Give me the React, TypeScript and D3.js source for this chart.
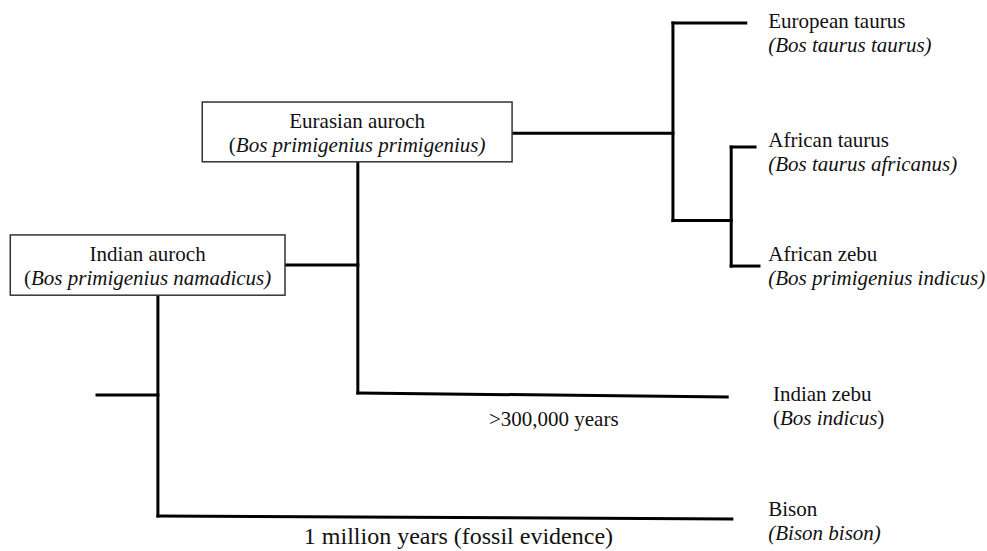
import React, { useEffect, useRef } from 'react';
import * as d3 from 'd3';

// diagram units: x 0..100 across the tree, y 0..10 from top leaf to bottom leaf

// leaves, top to bottom
const leafNames = ['European taurus', 'African taurus', 'African zebu', 'Indian zebu', 'Bison'];
const leafLatin = ['Bos taurus taurus', 'Bos taurus africanus', 'Bos primigenius indicus', 'Bos indicus', 'Bison bison'];
const leafUprightParens = [false, false, false, true, false];
const leafRowStart = [0, 2.51, 4.92, 7.49, 9.98];
const leafRowEnd = [0, 2.51, 4.92, 7.57, 10.04];
const leafFrom = [87, 95.8, 95.8, 39.4, 9.2];
const leafTo = [98, 99.4, 100, 95.2, 95.9];
const leafLabelX = [101.4, 101.4, 101.4, 102.1, 101.4];
const leafLabelRow = [0.1, 2.51, 4.82, 7.65, 9.98];

// internal splits: vertical bar plus the stem that feeds it
const cladeNames = ['Taurine', 'African', 'Eurasian', 'Indian'];
const cladeX = [87, 95.8, 39.4, 9.2];
const cladeTop = [0, 2.51, 2.81, 5.51];
const cladeBottom = [4.0, 4.92, 7.49, 9.98];
const stemFrom = [62.7, 87, 28.4, 0];
const stemRow = [2.23, 4.0, 4.9, 7.53];

// boxed ancestors
const boxNames = ['Eurasian auroch', 'Indian auroch'];
const boxLatin = ['Bos primigenius primigenius', 'Bos primigenius namadicus'];
const boxX0 = [15.9, -13.1];
const boxX1 = [62.7, 28.4];
const boxY0 = [1.6, 4.29];
const boxY1 = [2.81, 5.51];

// time notes under branches
const timeLabels = ['>300,000 years', '1 million years (fossil evidence)'];
const timeX = [69.0, 54.6];
const timeRow = [8.16, 10.55];
const timeSize = [21, 24];

const W = 987;
const H = 551;
const FONT = '"Liberation Serif", "Times New Roman", Times, "DejaVu Serif", serif';

const App = () => {
  const ref = useRef<SVGSVGElement | null>(null);

  useEffect(() => {
    const svg = d3.select(ref.current);
    svg.selectAll('*').remove();

    const x = d3.scaleLinear().domain([0, 100]).range([97, 759]);
    const y = d3.scaleLinear().domain([0, 10]).range([23, 517]);
    const line = d3.line<[number, number]>().x(d => x(d[0])).y(d => y(d[1]));

    svg.append('rect').attr('width', W).attr('height', H).attr('fill', '#fff');

    const g = svg.append('g')
      .attr('fill', 'none')
      .attr('stroke', '#000')
      .attr('stroke-width', 3)
      .attr('stroke-linecap', 'square');

    // clades
    cladeNames.forEach((c, i) => {
      g.append('path').attr('d', line([[cladeX[i], cladeTop[i]], [cladeX[i], cladeBottom[i]]]));
      g.append('path').attr('d', line([[stemFrom[i], stemRow[i]], [cladeX[i], stemRow[i]]]));
    });

    // leaf branches
    leafNames.forEach((n, i) => {
      g.append('path').attr('d', line([[leafFrom[i], leafRowStart[i]], [leafTo[i], leafRowEnd[i]]]));
    });

    // boxes
    boxNames.forEach((n, i) => {
      const x0 = x(boxX0[i]);
      const x1 = x(boxX1[i]);
      const y0 = y(boxY0[i]);
      const y1 = y(boxY1[i]);
      svg.append('rect')
        .attr('x', x0).attr('y', y0)
        .attr('width', x1 - x0).attr('height', y1 - y0)
        .attr('fill', '#fff')
        .attr('stroke', '#333')
        .attr('stroke-width', 1.5);
      const cx = (x0 + x1) / 2;
      const cy = (y0 + y1) / 2;
      svg.append('text')
        .attr('x', cx).attr('y', cy - 4)
        .attr('text-anchor', 'middle')
        .text(n);
      const t = svg.append('text')
        .attr('x', cx).attr('y', cy + 20)
        .attr('text-anchor', 'middle');
      t.append('tspan').text('(');
      t.append('tspan').style('font-style', 'italic').text(boxLatin[i] + ')');
    });

    // leaf labels
    leafNames.forEach((n, i) => {
      const lx = x(leafLabelX[i]);
      const ly = y(leafLabelRow[i]);
      svg.append('text').attr('x', lx).attr('y', ly).text(n);
      const t = svg.append('text').attr('x', lx).attr('y', ly + 24);
      if (leafUprightParens[i]) {
        t.append('tspan').text('(');
        t.append('tspan').style('font-style', 'italic').text(leafLatin[i]);
        t.append('tspan').text(')');
      } else {
        t.append('tspan').style('font-style', 'italic').text('(' + leafLatin[i] + ')');
      }
    });

    svg.selectAll('text, tspan')
      .style('font-family', FONT)
      .style('font-size', '21px')
      .style('fill', '#111');

    // time notes
    timeLabels.forEach((s, i) => {
      svg.append('text')
        .attr('x', x(timeX[i])).attr('y', y(timeRow[i]))
        .attr('text-anchor', 'middle')
        .style('font-family', FONT)
        .style('font-size', `${timeSize[i]}px`)
        .style('fill', '#111')
        .text(s);
    });
  }, []);

  return (
    <svg
      ref={ref}
      width={W}
      height={H}
      style={{ position: 'absolute', left: 0, top: 0, display: 'block' }}
    />
  );
};

export default App;
